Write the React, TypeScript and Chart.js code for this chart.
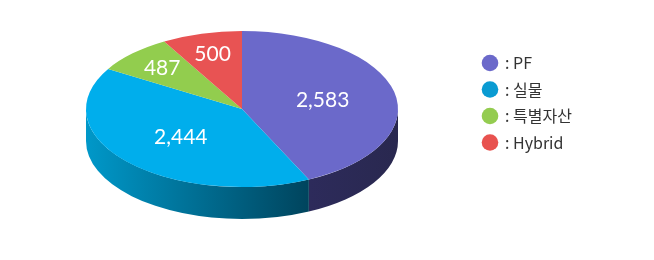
import { useEffect, useRef } from "react";
import { Chart, registerables } from "chart.js";

Chart.register(...registerables);

const categories = ["PF", "실물", "특별자산", "Hybrid"];
const values = [2583, 2444, 487, 500];
const topColors = ["#6B69CA", "#00AEEC", "#92CD4E", "#E85353"];
const sideLight = ["#2D2B5B", "#0098C9", "#5E8A2E", "#9E3434"];
const sideDark = ["#29284F", "#00445D", "#4A6E22", "#7E2828"];
const legendColors = ["#6B69CA", "#0A9BD2", "#94CC50", "#E8524F"];

const DEPTH = 32;

function geom(chart: any) {
  const a = chart.chartArea;
  const cx = (a.left + a.right) / 2;
  const rx = (a.right - a.left) / 2;
  const ry = (a.bottom - a.top - DEPTH) / 2;
  const cy = a.top + ry;
  return { cx, cy, rx, ry };
}

const pie3d = {
  id: "pie3d",
  beforeDatasetsDraw(chart: any) {
    const { ctx } = chart;
    const { cx, cy, rx, ry } = geom(chart);
    const arcs = chart.getDatasetMeta(0).data;
    arcs.forEach((arc: any, i: number) => {
      const { startAngle, endAngle } = arc.getProps(["startAngle", "endAngle"], true);
      for (const off of [-2 * Math.PI, 0, 2 * Math.PI]) {
        const s = Math.max(startAngle, off);
        const e = Math.min(endAngle, off + Math.PI);
        if (e <= s) continue;
        const a0 = s - off;
        const a1 = e - off;
        const x0 = cx + rx * Math.cos(a0);
        const x1 = cx + rx * Math.cos(a1);
        const g = ctx.createLinearGradient(Math.min(x0, x1), 0, Math.max(x0, x1), 0);
        g.addColorStop(0, sideLight[i]);
        g.addColorStop(1, sideDark[i]);
        ctx.save();
        ctx.beginPath();
        ctx.ellipse(cx, cy, rx, ry, 0, a0, a1, false);
        ctx.lineTo(x1, cy + ry * Math.sin(a1) + DEPTH);
        ctx.ellipse(cx, cy + DEPTH, rx, ry, 0, a1, a0, true);
        ctx.closePath();
        ctx.fillStyle = g;
        ctx.fill();
        ctx.restore();
      }
    });
    const first = arcs[0];
    const r = first.outerRadius;
    ctx.save();
    ctx.translate(cx, cy);
    ctx.scale(rx / r, ry / r);
    ctx.translate(-first.x, -first.y);
  },
  afterDatasetsDraw(chart: any) {
    const { ctx } = chart;
    ctx.restore();
    const { cx, cy, rx, ry } = geom(chart);
    const arcs = chart.getDatasetMeta(0).data;
    ctx.save();
    ctx.fillStyle = "#FFFFFF";
    ctx.font = "21px Lato";
    ctx.textAlign = "center";
    ctx.textBaseline = "middle";
    arcs.forEach((arc: any, i: number) => {
      const { startAngle, endAngle } = arc.getProps(["startAngle", "endAngle"], true);
      const mid = (startAngle + endAngle) / 2;
      const frac = (endAngle - startAngle) / (2 * Math.PI);
      const k = frac < 0.15 ? 0.73 : 0.53;
      const x = cx + rx * k * Math.cos(mid);
      const y = cy + ry * k * Math.sin(mid);
      ctx.fillText(values[i].toLocaleString("en-US"), x, y);
    });
    ctx.restore();
  },
  afterDraw(chart: any) {
    const { ctx, chartArea } = chart;
    const lx = chartArea.right + 92;
    const ly = 63;
    const step = 26.5;
    ctx.save();
    ctx.font = '16px "Noto Sans CJK KR"';
    ctx.textBaseline = "middle";
    ctx.textAlign = "left";
    categories.forEach((c, i) => {
      const y = ly + i * step;
      ctx.beginPath();
      ctx.arc(lx, y, 8.3, 0, Math.PI * 2);
      ctx.fillStyle = legendColors[i];
      ctx.fill();
      ctx.fillStyle = "#333333";
      ctx.fillText(": " + c, lx + 15, y);
    });
    ctx.restore();
  },
};

export default function App() {
  const ref = useRef<HTMLCanvasElement>(null);
  useEffect(() => {
    document.body.style.margin = "0";
    const chart = new Chart(ref.current as HTMLCanvasElement, {
      type: "pie",
      data: {
        labels: categories,
        datasets: [
          {
            data: values,
            backgroundColor: topColors,
            borderWidth: 0,
            clip: false as any,
          },
        ],
      },
      options: {
        responsive: false,
        animation: false,
        devicePixelRatio: 1,
        layout: { padding: { left: 86, right: 256, top: 31, bottom: 41 } },
        plugins: {
          legend: { display: false },
          tooltip: { enabled: false },
        },
      },
      plugins: [pie3d],
    });
    return () => chart.destroy();
  }, []);
  return (
    <div style={{ position: "absolute", left: 0, top: 0, width: 654, height: 260 }}>
      <canvas ref={ref} width={654} height={260} />
    </div>
  );
}
